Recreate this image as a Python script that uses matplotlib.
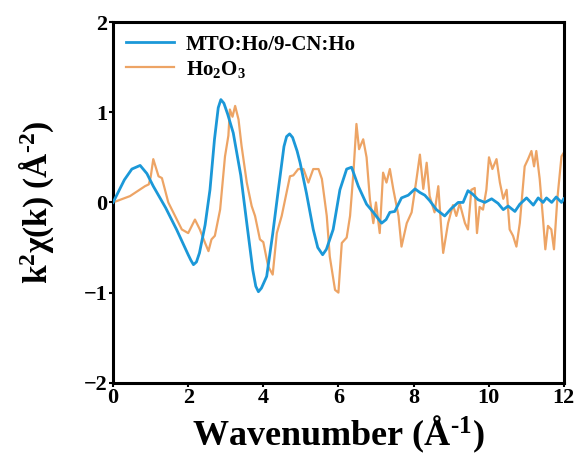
import numpy as np
import matplotlib
matplotlib.use("Agg")
import matplotlib.pyplot as plt

plt.rcParams["font.family"] = "Liberation Serif"
plt.rcParams["font.weight"] = "bold"
plt.rcParams["mathtext.fontset"] = "custom"
plt.rcParams["mathtext.rm"] = "Liberation Serif:bold"
plt.rcParams["mathtext.it"] = "Liberation Serif:bold"
plt.rcParams["mathtext.bf"] = "Liberation Serif:bold"
plt.rcParams["mathtext.default"] = "rm"

# MTO:Ho/9-CN:Ho
k_mto = [0, 0.3, 0.5, 0.72, 0.9, 1.07, 1.4, 1.69, 2.0, 2.07, 2.14, 2.22, 2.3, 2.45, 2.58,
         2.7, 2.8, 2.87, 2.95, 3.05, 3.2, 3.4, 3.56, 3.72, 3.8, 3.87, 3.95, 4.09, 4.25,
         4.4, 4.55, 4.62, 4.7, 4.78, 4.9, 4.98, 5.15, 5.33, 5.45, 5.58, 5.68, 5.77, 5.86,
         6.04, 6.22, 6.35, 6.53, 6.75, 6.93, 7.15, 7.27, 7.37, 7.5, 7.68, 7.86, 8.04,
         8.17, 8.3, 8.43, 8.61, 8.83, 9.0, 9.19, 9.32, 9.45, 9.58, 9.72, 9.9, 10.08,
         10.25, 10.39, 10.52, 10.7, 10.83, 11.01, 11.19, 11.32, 11.45, 11.54, 11.68,
         11.8, 11.94, 12.0]
chi_mto = [0, 0.25, 0.37, 0.41, 0.32, 0.18, -0.06, -0.30, -0.58, -0.64, -0.69, -0.66, -0.56,
           -0.25, 0.14, 0.7, 1.05, 1.14, 1.1, 0.98, 0.77, 0.3, -0.23, -0.75, -0.93, -0.99,
           -0.95, -0.82, -0.35, 0.14, 0.62, 0.73, 0.76, 0.72, 0.57, 0.44, 0.1, -0.30, -0.5,
           -0.58, -0.52, -0.41, -0.30, 0.14, 0.37, 0.39, 0.18, -0.02, -0.11, -0.23, -0.19,
           -0.11, -0.10, 0.05, 0.08, 0.15, 0.11, 0.08, 0.02, -0.08, -0.15, -0.07, 0.0, 0.0,
           0.13, 0.09, 0.03, 0.0, 0.04, -0.01, -0.08, -0.04, -0.10, -0.02, 0.05, -0.03,
           0.05, 0.0, 0.05, 0.0, 0.06, 0.0, 0.04]

# Ho2O3
k_ho = [0, 0.45, 0.85, 0.95, 1.0, 1.07, 1.21, 1.3, 1.47, 1.65, 1.83, 2.0, 2.18, 2.31, 2.45,
        2.54, 2.62, 2.71, 2.85, 2.98, 3.07, 3.11, 3.18, 3.25, 3.34, 3.42, 3.56, 3.69, 3.78,
        3.91, 4.0, 4.13, 4.25, 4.36, 4.49, 4.62, 4.71, 4.8, 4.93, 5.07, 5.2, 5.33, 5.47,
        5.56, 5.69, 5.77, 5.91, 6.0, 6.09, 6.22, 6.31, 6.4, 6.48, 6.55, 6.66, 6.75, 6.84,
        6.93, 7.0, 7.1, 7.19, 7.28, 7.37, 7.46, 7.6, 7.68, 7.82, 7.95, 8.08, 8.17, 8.26,
        8.35, 8.43, 8.56, 8.66, 8.74, 8.79, 8.92, 9.05, 9.14, 9.23, 9.37, 9.45, 9.54,
        9.63, 9.69, 9.76, 9.85, 9.94, 10.01, 10.1, 10.21, 10.3, 10.39, 10.48, 10.56,
        10.65, 10.74, 10.83, 10.96, 11.05, 11.14, 11.21, 11.27, 11.36, 11.45, 11.51,
        11.58, 11.67, 11.74, 11.83, 11.94, 12.0]
chi_ho = [0, 0.07, 0.18, 0.2, 0.28, 0.48, 0.29, 0.27, 0.0, -0.15, -0.30, -0.34, -0.19, -0.30,
          -0.45, -0.54, -0.41, -0.37, -0.08, 0.51, 0.74, 1.03, 0.95, 1.07, 0.92, 0.63, 0.22,
          -0.04, -0.15, -0.41, -0.44, -0.71, -0.80, -0.34, -0.15, 0.11, 0.29, 0.3, 0.37,
          0.37, 0.22, 0.37, 0.37, 0.26, -0.15, -0.60, -0.97, -1.0, -0.45, -0.39, -0.15,
          0.33, 0.87, 0.59, 0.70, 0.5, 0.03, -0.23, 0.0, -0.34, 0.33, 0.22, 0.37, 0.15,
          -0.15, -0.49, -0.23, -0.11, 0.26, 0.53, 0.15, 0.44, 0.07, -0.11, 0.18, -0.30,
          -0.56, -0.23, -0.03, -0.15, -0.01, -0.23, -0.30, 0.14, 0.16, -0.34, -0.05, -0.08,
          0.14, 0.5, 0.37, 0.48, 0.22, 0.04, 0.14, -0.30, -0.37, -0.49, -0.23, 0.40, 0.48,
          0.57, 0.40, 0.57, 0.26, -0.19, -0.52, -0.26, -0.30, -0.52, 0.04, 0.51, 0.55]

fig = plt.figure(figsize=(5.77, 4.59), dpi=100)
ax = fig.add_axes([0.196, 0.166, 0.781, 0.786])

ax.plot(k_ho, chi_ho, color="#eda465", lw=1.6, label="Ho$_2$O$_3$", zorder=2)
ax.plot(k_mto, chi_mto, color="#1b98d8", lw=2.0, label="MTO:Ho/9-CN:Ho", zorder=3)

ax.set_xlim(0, 12)
ax.set_ylim(-2, 2)
ax.set_xticks(np.arange(0, 13, 2))
ax.set_yticks([-2, -1, 0, 1, 2])
ax.tick_params(direction="out", length=3, width=1.5, labelsize=16, pad=1)
for s in ax.spines.values():
    s.set_linewidth(2.2)

ax.set_xlabel("Wavenumber (Å$^{\\text{-}1}$)", fontsize=26, fontweight="bold", labelpad=4)
ax.set_ylabel("k$^{2}$χ(k) (Å$^{\\text{-}2}$)", fontsize=24, fontweight="bold", labelpad=20)

handles, labels = ax.get_legend_handles_labels()
ax.legend(handles[::-1], labels[::-1], loc="upper left", frameon=False, fontsize=15,
          handlelength=2.3, borderaxespad=0.2, labelspacing=0.2, handletextpad=0.6)

fig.savefig("out.png", dpi=100)
